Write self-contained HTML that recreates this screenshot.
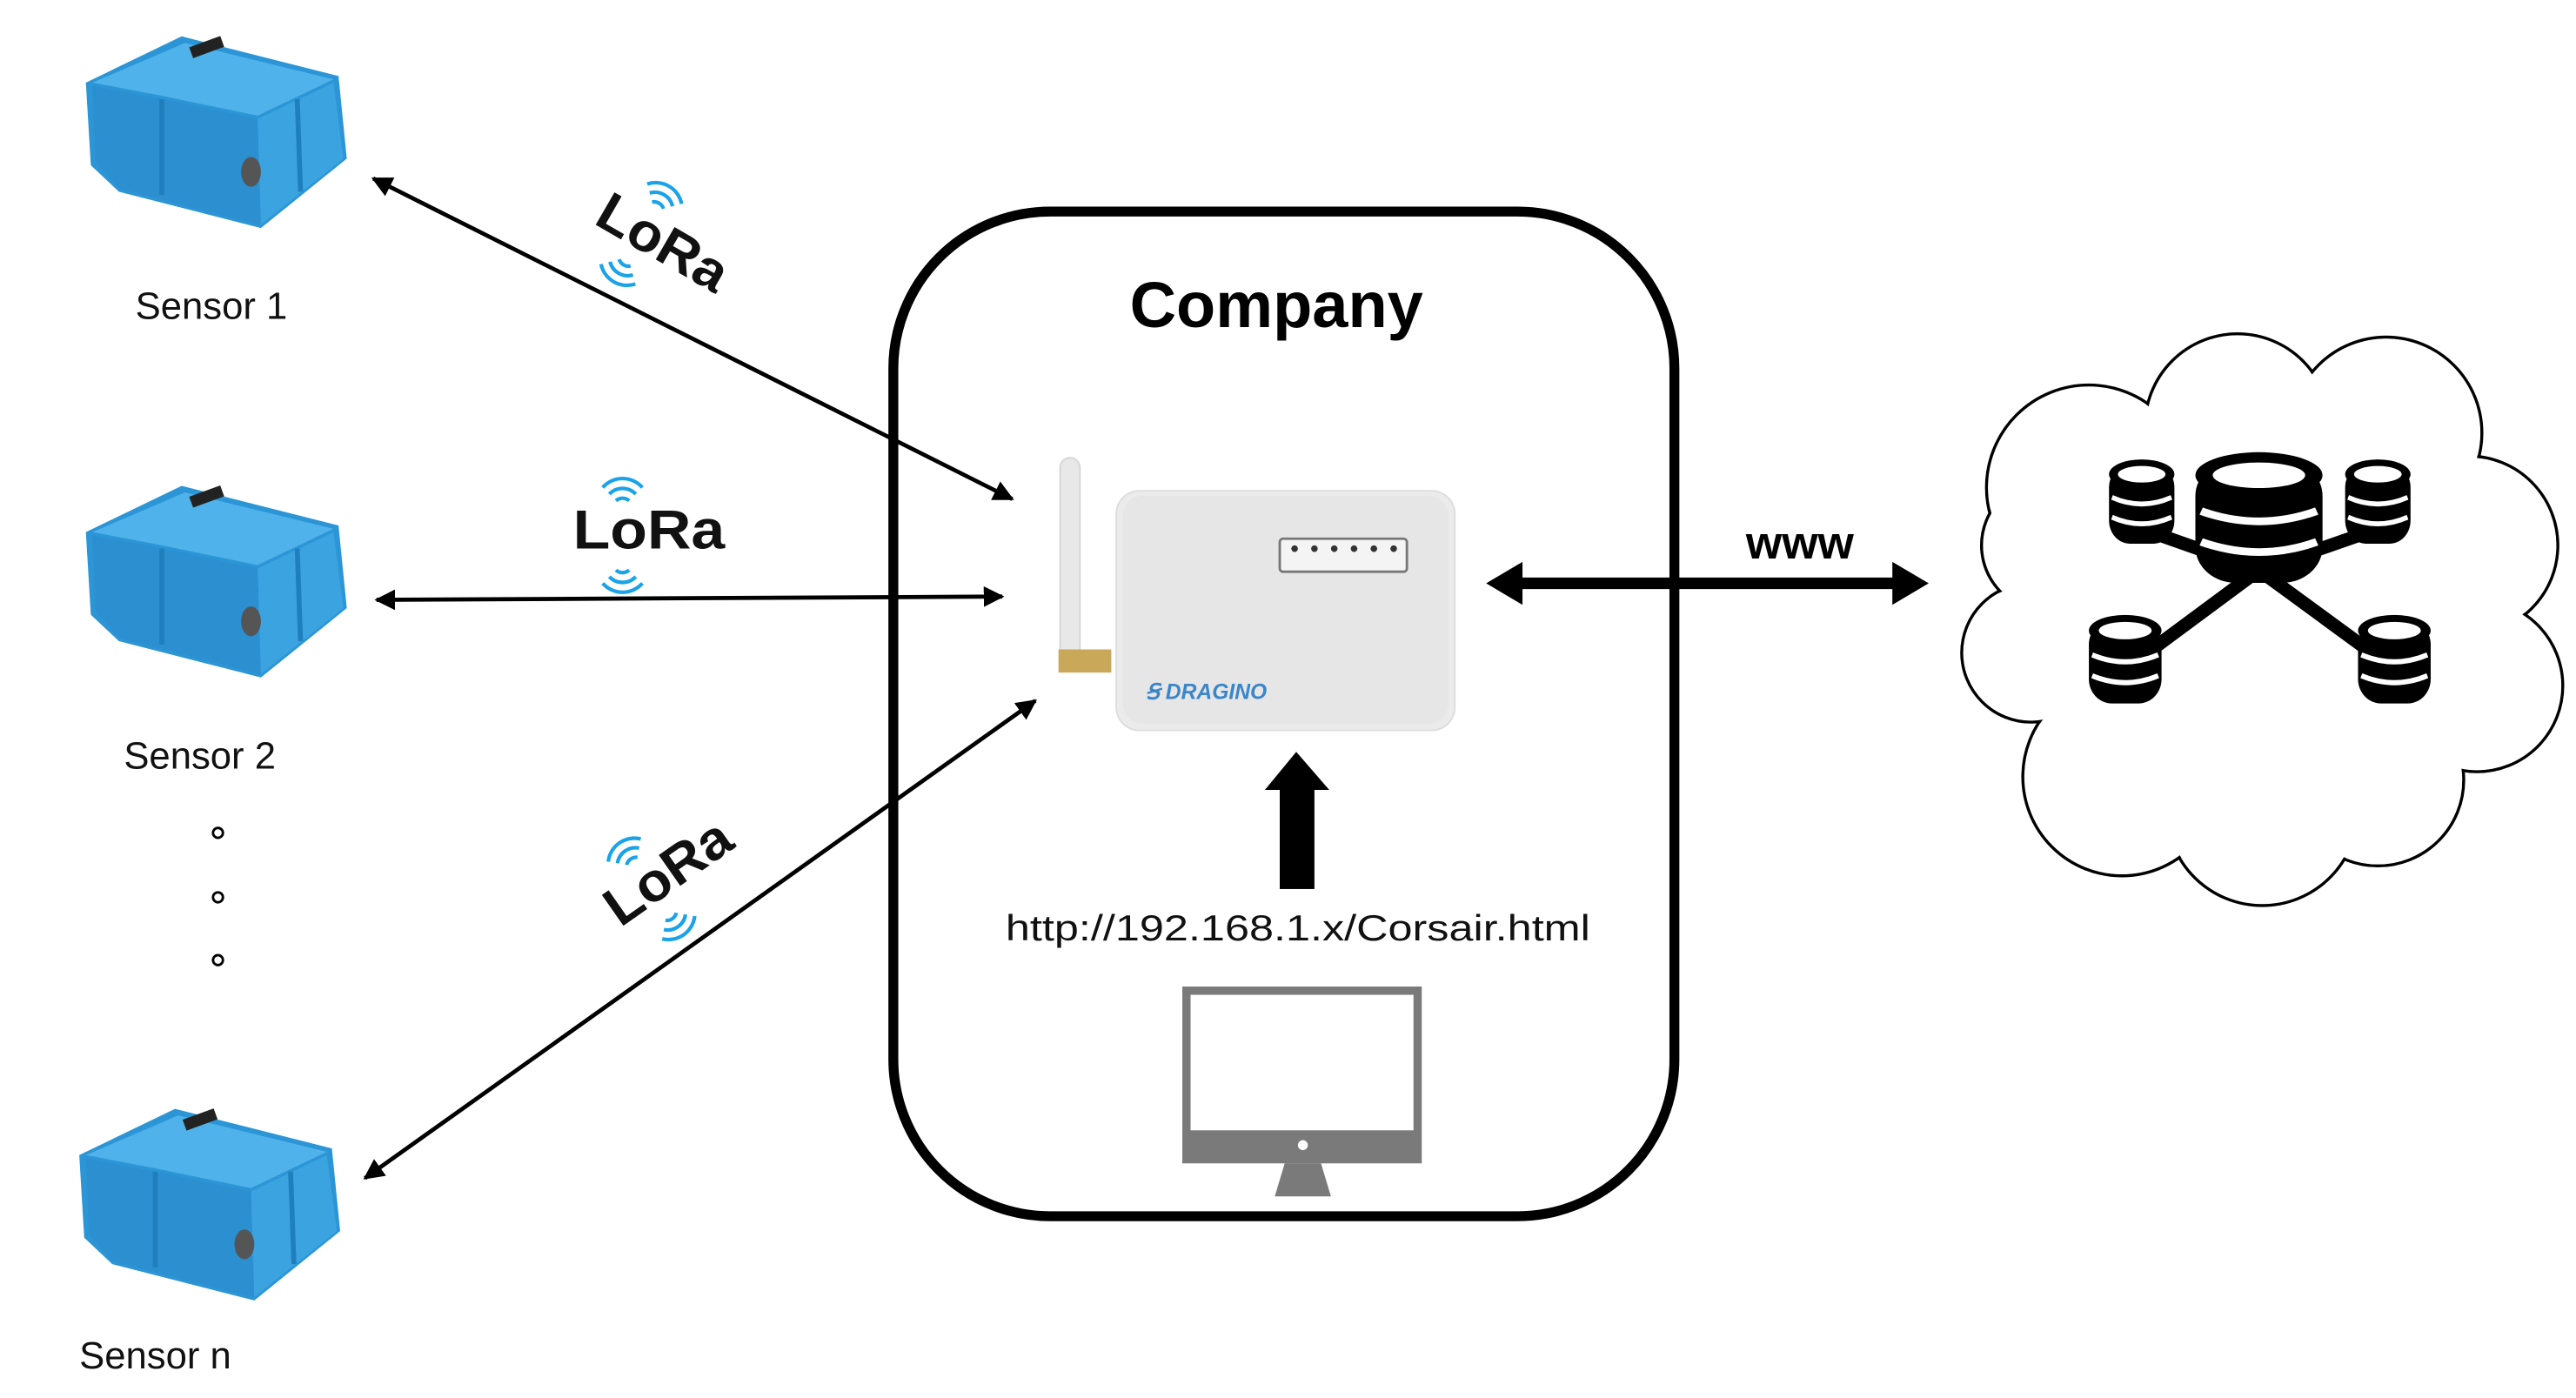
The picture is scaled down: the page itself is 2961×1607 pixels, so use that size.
<!DOCTYPE html>
<html><head><meta charset="utf-8"><style>
html,body{margin:0;padding:0;background:#fff;}
svg{display:block;}
</style></head><body>
<svg width="2961" height="1607" viewBox="0 0 1560 846" preserveAspectRatio="none" xmlns="http://www.w3.org/2000/svg">
<defs>
<marker id="ah" viewBox="0 0 10 10" refX="9" refY="5" markerWidth="5" markerHeight="5" orient="auto-start-reverse"><path d="M0,0 L10,5 L0,10 z" fill="#000"/></marker>
<g id="case">
  <polygon points="2,32 60,4 155,28 160,78 108,120 22,98 5,82" fill="#2b95d6"/>
  <polygon points="6,32 62,8 152,30 106,52 48,40" fill="#4fb2ea"/>
  <polygon points="48,42 106,54 108,118 22,96 8,80 6,34" fill="#2c8fcf"/>
  <polygon points="106,54 152,32 158,78 108,118" fill="#3aa3e0"/>
  <rect x="65" y="7" width="20" height="7" fill="#222" transform="rotate(-20 75 10)"/>
  <ellipse cx="102" cy="86" rx="6" ry="9" fill="#555"/>
  <line x1="48" y1="42" x2="48" y2="100" stroke="#1f7fbd" stroke-width="3"/>
  <line x1="130" y1="42" x2="132" y2="98" stroke="#1f7fbd" stroke-width="3"/>
</g>
<g id="stack">
  <rect x="-22" y="-14" width="44" height="48" rx="14" fill="#000"/>
  <ellipse cx="0" cy="-8" rx="22" ry="9" fill="#000"/>
  <ellipse cx="0" cy="-8" rx="16" ry="5" fill="#fff"/>
  <path d="M-20,6 Q0,14 20,6" stroke="#fff" stroke-width="3" fill="none"/>
  <path d="M-20,18 Q0,26 20,18" stroke="#fff" stroke-width="3" fill="none"/>
</g>
<g id="arcs">
  <path d="M-4,-3 A6,6 0 0 1 4,-3" stroke="#1aa3e8" stroke-width="2.2" fill="none"/>
  <path d="M-8,-7 A11,11 0 0 1 8,-7" stroke="#1aa3e8" stroke-width="2.2" fill="none"/>
  <path d="M-12,-11 A16,16 0 0 1 12,-11" stroke="#1aa3e8" stroke-width="2.2" fill="none"/>
</g>
</defs>

<use href="#case" transform="translate(50,18)"/>
<use href="#case" transform="translate(50,290)"/>
<use href="#case" transform="translate(46,667)"/>

<g font-family="Liberation Sans, sans-serif" font-size="23" fill="#111">
<text x="128" y="193" text-anchor="middle">Sensor 1</text>
<text x="121" y="465" text-anchor="middle">Sensor 2</text>
<text x="48" y="828">Sensor n</text>
</g>
<circle cx="132" cy="504" r="3" fill="none" stroke="#000" stroke-width="1.5"/>
<circle cx="132" cy="543" r="3" fill="none" stroke="#000" stroke-width="1.5"/>
<circle cx="132" cy="581" r="3" fill="none" stroke="#000" stroke-width="1.5"/>

<rect x="541" y="128" width="473" height="608" rx="95" fill="none" stroke="#000" stroke-width="6"/>
<text x="773" y="198" text-anchor="middle" font-family="Liberation Sans, sans-serif" font-weight="bold" font-size="39" fill="#000">Company</text>

<line x1="226" y1="108" x2="613" y2="302" stroke="#000" stroke-width="2.5" marker-start="url(#ah)" marker-end="url(#ah)"/>
<line x1="228" y1="363" x2="607" y2="361" stroke="#000" stroke-width="2.5" marker-start="url(#ah)" marker-end="url(#ah)"/>
<line x1="221" y1="713" x2="627" y2="424" stroke="#000" stroke-width="2.5" marker-start="url(#ah)" marker-end="url(#ah)"/>

<g font-family="Liberation Sans, sans-serif" font-weight="bold" font-size="33" fill="#111">
<g transform="translate(402,146) rotate(30)">
  <text x="0" y="12" text-anchor="middle" textLength="86" lengthAdjust="spacingAndGlyphs">LoRa</text>
  <use href="#arcs" transform="translate(-14,-14)"/>
  <use href="#arcs" transform="translate(-14,20) rotate(180)"/>
</g>
<g transform="translate(393,320)">
  <text x="0" y="12" text-anchor="middle" textLength="92" lengthAdjust="spacingAndGlyphs">LoRa</text>
  <use href="#arcs" transform="translate(-16,-14)"/>
  <use href="#arcs" transform="translate(-16,22) rotate(180)"/>
</g>
<g transform="translate(404,527) rotate(-35)">
  <text x="0" y="12" text-anchor="middle" textLength="86" lengthAdjust="spacingAndGlyphs">LoRa</text>
  <use href="#arcs" transform="translate(-14,-14)"/>
  <use href="#arcs" transform="translate(-14,21) rotate(180)"/>
</g>
</g>

<rect x="642" y="277" width="12" height="122" rx="6" fill="#e8e8e8" stroke="#d6d6d6"/>
<rect x="641" y="393" width="32" height="14" fill="#c9a85a"/>
<rect x="676" y="297" width="205" height="145" rx="14" fill="#ebebeb" stroke="#ddd"/>
<rect x="680" y="300" width="197" height="138" rx="12" fill="#e6e6e6"/>
<rect x="775" y="326" width="77" height="20" rx="2" fill="#f4f4f4" stroke="#777" stroke-width="1.5"/>
<g fill="#333"><circle cx="784" cy="332" r="2"/><circle cx="796" cy="332" r="2"/><circle cx="808" cy="332" r="2"/><circle cx="820" cy="332" r="2"/><circle cx="832" cy="332" r="2"/><circle cx="844" cy="332" r="2"/></g>
<text x="694" y="423" font-family="Liberation Sans, sans-serif" font-weight="bold" font-style="italic" font-size="13" fill="#3a86c8">Ꞩ DRAGINO</text>

<line x1="912" y1="353" x2="1152" y2="353" stroke="#000" stroke-width="7"/>
<polygon points="900,353 922,340 922,366" fill="#000"/>
<polygon points="1168,353 1146,340 1146,366" fill="#000"/>
<text x="1090" y="338" text-anchor="middle" font-family="Liberation Sans, sans-serif" font-weight="bold" font-size="28" fill="#000">www</text>

<rect x="775" y="476" width="21" height="62" fill="#000"/>
<polygon points="785,455 805,478 766,478" fill="#000"/>
<text x="786" y="569" text-anchor="middle" font-family="Liberation Sans, sans-serif" font-size="22" fill="#111" textLength="354" lengthAdjust="spacingAndGlyphs">http://192.168.1.x/Corsair.html</text>

<rect x="716" y="597" width="145" height="107" fill="#7a7a7a"/>
<rect x="721" y="602" width="135" height="82" fill="#fff"/>
<circle cx="789" cy="693" r="3" fill="#fff"/>
<polygon points="778,704 800,704 806,724 772,724" fill="#7a7a7a"/>

<g stroke="#000" stroke-width="1.8" fill="#fff">
<circle cx="1265" cy="295" r="62"/><circle cx="1355" cy="258" r="56"/><circle cx="1445" cy="262" r="58"/>
<circle cx="1495" cy="330" r="54"/><circle cx="1500" cy="415" r="52"/><circle cx="1440" cy="472" r="52"/>
<circle cx="1370" cy="490" r="58"/><circle cx="1285" cy="470" r="60"/><circle cx="1230" cy="395" r="42"/><circle cx="1240" cy="330" r="40"/>
</g>
<g fill="#fff">
<circle cx="1265" cy="295" r="61"/><circle cx="1355" cy="258" r="55"/><circle cx="1445" cy="262" r="57"/>
<circle cx="1495" cy="330" r="53"/><circle cx="1500" cy="415" r="51"/><circle cx="1440" cy="472" r="51"/>
<circle cx="1370" cy="490" r="57"/><circle cx="1285" cy="470" r="59"/><circle cx="1230" cy="395" r="41"/><circle cx="1240" cy="330" r="39"/>
<circle cx="1365" cy="375" r="120"/>
</g>

<g stroke="#000" stroke-width="8">
<line x1="1368" y1="345" x2="1297" y2="320"/><line x1="1368" y1="345" x2="1440" y2="320"/>
<line x1="1368" y1="345" x2="1287" y2="405"/><line x1="1368" y1="345" x2="1450" y2="405"/>
</g>
<use href="#stack" transform="translate(1297,295) scale(0.9,1)"/>
<use href="#stack" transform="translate(1440,295) scale(0.9,1)"/>
<use href="#stack" transform="translate(1287,390) scale(1,1.05)"/>
<use href="#stack" transform="translate(1450,390) scale(1,1.05)"/>
<use href="#stack" transform="translate(1368,300) scale(1.75,1.55)"/>
</svg>
</body></html>
